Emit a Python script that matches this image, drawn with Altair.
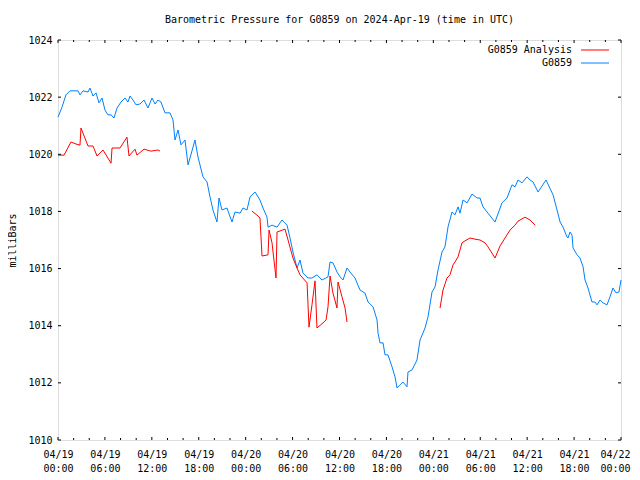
import json
import altair as alt
import pandas as pd

# ---- data (hours since 2024-04-19 00:00 UTC, millibars) ----
blue_h = [0.00, 0.51, 1.02, 1.53, 2.56, 2.81, 3.20, 3.84, 4.09, 4.48, 4.86, 5.24, 5.63, 6.01, 6.39, 6.78,
          7.16, 7.55, 8.06, 8.57, 8.95, 9.21, 9.59, 9.98, 10.49, 11.00, 11.51, 12.02, 12.41, 12.79, 13.17,
          13.68, 14.32, 14.71, 14.96, 15.35, 15.73, 16.24, 16.63, 16.88, 17.52, 17.90, 18.54, 19.06, 19.44,
          19.82, 20.33, 20.59, 20.97, 21.61, 22.25, 22.64, 23.28, 23.66, 24.17, 24.56, 25.19, 25.83, 26.22,
          26.73, 26.86, 27.37, 28.01, 28.65, 29.29, 29.67, 30.05, 30.57, 30.95, 31.33, 31.97, 32.48, 33.12,
          33.76, 34.53, 34.79, 35.17, 35.68, 36.07, 36.45, 36.96, 37.34, 37.98, 38.62, 39.26, 39.65, 40.29,
          40.80, 40.93, 41.18, 41.57, 41.82, 42.20, 42.72, 43.10, 43.36, 43.74, 44.12, 44.63, 44.76, 45.27,
          45.91, 46.30, 46.94, 47.32, 47.83, 48.22, 48.60, 49.11, 49.49, 49.88, 50.39, 50.77, 51.16, 51.41,
          51.80, 52.31, 52.95, 53.59, 53.97, 54.35, 54.99, 55.89, 56.78, 57.42, 58.06, 58.45, 58.83, 59.34,
          59.98, 60.37, 60.75, 61.39, 62.41, 63.31, 63.82, 64.21, 64.59, 65.10, 65.23, 65.48, 65.74, 65.87,
          66.38, 66.76, 67.15, 67.40, 67.78, 68.29, 68.68, 68.93, 69.32, 69.70, 70.21, 70.59, 70.98, 71.36,
          71.74, 72.00]
blue_v = [1021.30, 1021.65, 1022.08, 1022.22, 1022.22, 1022.08, 1022.22, 1022.18, 1022.32, 1022.04, 1022.15,
          1021.80, 1021.97, 1021.55, 1021.38, 1021.38, 1021.27, 1021.62, 1021.83, 1021.97, 1021.83, 1022.04,
          1021.90, 1021.73, 1021.76, 1021.90, 1021.62, 1021.97, 1021.76, 1021.90, 1021.83, 1021.45, 1021.45,
          1021.20, 1020.50, 1020.85, 1020.33, 1020.50, 1019.63, 1019.87, 1020.50, 1019.91, 1019.21, 1019.03,
          1018.51, 1018.05, 1017.63, 1018.47, 1018.05, 1018.12, 1017.63, 1017.98, 1017.94, 1018.12, 1018.05,
          1018.51, 1018.68, 1018.40, 1018.12, 1017.80, 1017.45, 1017.52, 1017.45, 1017.70, 1017.52, 1017.07,
          1016.58, 1016.02, 1016.30, 1015.84, 1015.67, 1015.67, 1015.78, 1015.60, 1015.71, 1016.23, 1016.20,
          1015.88, 1015.71, 1015.60, 1016.02, 1015.88, 1015.67, 1015.25, 1015.14, 1014.83, 1014.66, 1014.20,
          1013.74, 1013.40, 1013.40, 1012.98, 1012.98, 1012.56, 1012.21, 1011.82, 1011.93, 1012.03, 1011.86,
          1012.38, 1012.45, 1012.80, 1013.50, 1013.92, 1014.31, 1015.18, 1015.36, 1015.95, 1016.58, 1016.76,
          1017.46, 1017.98, 1017.88, 1018.16, 1017.94, 1018.40, 1018.30, 1018.61, 1018.47, 1018.47, 1018.16,
          1017.94, 1017.63, 1018.30, 1018.47, 1018.93, 1018.86, 1019.10, 1019.00, 1019.21, 1019.10, 1019.03,
          1018.68, 1019.10, 1018.58, 1018.05, 1017.63, 1017.45, 1017.10, 1017.07, 1017.28, 1017.17, 1016.72,
          1016.48, 1016.37, 1016.06, 1015.60, 1015.32, 1014.83, 1014.83, 1014.73, 1014.90, 1014.80, 1014.73,
          1015.01, 1015.32, 1015.15, 1015.18, 1015.60]

red1_h = [0.00, 0.77, 1.66, 2.30, 2.81, 2.94, 3.84, 4.48, 4.99, 5.76, 6.78, 6.91, 7.93, 8.82, 9.08, 9.85,
          10.10, 11.00, 11.89, 12.79, 13.05]
red1_v = [1019.97, 1019.97, 1020.43, 1020.36, 1020.32, 1020.92, 1020.29, 1020.29, 1019.94, 1020.15, 1019.69,
          1020.22, 1020.22, 1020.60, 1019.94, 1020.18, 1019.97, 1020.18, 1020.11, 1020.15, 1020.11]
red2_h = [24.81, 25.45, 25.83, 26.09, 26.86, 26.99, 27.37, 27.50, 27.88, 28.01, 29.03, 29.42, 30.05, 30.57,
          30.95, 31.85, 32.10, 32.48, 32.87, 33.12, 33.89, 34.28, 34.53, 34.79, 35.17, 35.68, 35.81, 36.32,
          36.71, 36.96]
red2_v = [1018.01, 1017.87, 1017.77, 1016.44, 1016.48, 1017.35, 1016.90, 1016.58, 1015.67, 1017.28, 1017.38,
          1017.00, 1016.37, 1016.02, 1015.78, 1015.50, 1013.95, 1014.73, 1015.57, 1013.92, 1014.10, 1014.20,
          1014.66, 1015.74, 1015.14, 1014.62, 1015.53, 1015.01, 1014.62, 1014.13]
red3_h = [48.86, 49.24, 49.75, 50.13, 50.52, 50.77, 51.16, 51.67, 52.05, 52.69, 53.33, 53.97, 54.61, 54.99,
          55.89, 56.53, 57.17, 57.81, 58.45, 58.83, 59.72, 60.37, 61.01]
red3_v = [1014.62, 1015.25, 1015.67, 1015.78, 1016.13, 1016.23, 1016.41, 1016.90, 1016.97, 1017.07, 1017.03,
          1017.00, 1016.90, 1016.76, 1016.37, 1016.79, 1017.07, 1017.35, 1017.52, 1017.66, 1017.80, 1017.70,
          1017.52]

x_major = [0, 6, 12, 18, 24, 30, 36, 42, 48, 54, 60, 66, 72]
x_minor = [2, 4, 8, 10, 14, 16, 20, 22, 26, 28, 32, 34, 38, 40, 44, 46, 50, 52, 56, 58, 62, 64, 68, 70]
x_dates = ["04/19", "04/19", "04/19", "04/19", "04/20", "04/20", "04/20", "04/20",
           "04/21", "04/21", "04/21", "04/21", "04/22"]
x_times = ["00:00", "06:00", "12:00", "18:00", "00:00", "06:00", "12:00", "18:00",
           "00:00", "06:00", "12:00", "18:00", "00:00"]
y_ticks = [1010, 1012, 1014, 1016, 1018, 1020, 1022, 1024]

series_names = ["G0859 Analysis", "G0859"]
series_colors = ["#ff0000", "#0080ff"]

FONT = "DejaVu Sans Mono"
W, H = 563, 400

blue_df = pd.DataFrame({"h": blue_h, "v": blue_v})
red_df = pd.concat([
    pd.DataFrame({"h": red1_h, "v": red1_v, "seg": 1}),
    pd.DataFrame({"h": red2_h, "v": red2_v, "seg": 2}),
    pd.DataFrame({"h": red3_h, "v": red3_v, "seg": 3}),
], ignore_index=True)

xscale = alt.Scale(domain=[0, 72], nice=False, zero=False)
yscale = alt.Scale(domain=[1010, 1024], nice=False, zero=False)

label_expr = ("[" + json.dumps(x_dates) + "[round(datum.value/6)], "
              + json.dumps(x_times) + "[round(datum.value/6)]]")

x_axis = alt.Axis(values=x_major, labelExpr=label_expr, grid=False, ticks=False, domain=False,
                  labelFont=FONT, labelFontSize=10, labelColor="black", labelPadding=14,
                  labelLineHeight=14, labelBaseline="middle", labelFlush=False,
                  labelAlign={"condition": {"test": "datum.value >= 72", "value": "right"},
                              "value": "center"},
                  labelOffset={"condition": {"test": "datum.value >= 72", "value": 9},
                               "value": 0},
                  labelOverlap=False, title=None)
y_axis = alt.Axis(values=y_ticks, grid=False, ticks=False, domain=False, format="d",
                  labelFont=FONT, labelFontSize=10, labelColor="black", labelPadding=6,
                  title="milliBars", titleFont=FONT, titleFontSize=10, titleFontWeight="normal",
                  titleColor="black", titlePadding=10)

blue = alt.Chart(blue_df).mark_line(color=series_colors[1], strokeWidth=1).encode(
    x=alt.X("h:Q", scale=xscale, axis=x_axis),
    y=alt.Y("v:Q", scale=yscale, axis=y_axis),
)
red = alt.Chart(red_df).mark_line(color=series_colors[0], strokeWidth=1).encode(
    x=alt.X("h:Q", scale=xscale),
    y=alt.Y("v:Q", scale=yscale),
    detail="seg:N",
)

xmaj = pd.DataFrame({"h": x_major})
xmin = pd.DataFrame({"h": x_minor})
yt = pd.DataFrame({"v": y_ticks})

tick_layers = [
    alt.Chart(xmaj).mark_rule(color="black", strokeWidth=1).encode(
        x=alt.X("h:Q", scale=xscale), y=alt.value(H), y2=alt.value(H - 3)),
    alt.Chart(xmaj).mark_rule(color="black", strokeWidth=1).encode(
        x=alt.X("h:Q", scale=xscale), y=alt.value(0), y2=alt.value(3)),
    alt.Chart(xmin).mark_rule(color="black", strokeWidth=1).encode(
        x=alt.X("h:Q", scale=xscale), y=alt.value(H), y2=alt.value(H - 2)),
    alt.Chart(xmin).mark_rule(color="black", strokeWidth=1).encode(
        x=alt.X("h:Q", scale=xscale), y=alt.value(0), y2=alt.value(2)),
    alt.Chart(yt).mark_rule(color="black", strokeWidth=1).encode(
        y=alt.Y("v:Q", scale=yscale), x=alt.value(0), x2=alt.value(3)),
    alt.Chart(yt).mark_rule(color="black", strokeWidth=1).encode(
        y=alt.Y("v:Q", scale=yscale), x=alt.value(W), x2=alt.value(W - 3)),
]

leg_df = pd.DataFrame({"name": series_names, "color": series_colors})
legend_layers = []
for i, (nm, col) in enumerate(zip(series_names, series_colors)):
    d = leg_df[leg_df["name"] == nm]
    yy = 10 + 13 * i
    legend_layers.append(
        alt.Chart(d).mark_text(align="right", baseline="middle", font=FONT, fontSize=10,
                               color="black").encode(text="name:N", x=alt.value(514), y=alt.value(yy)))
    legend_layers.append(
        alt.Chart(d).mark_rule(color=col, strokeWidth=1).encode(
            x=alt.value(523), x2=alt.value(551), y=alt.value(yy)))

chart = alt.layer(blue, red, *tick_layers, *legend_layers).properties(
    width=W, height=H,
    title=alt.TitleParams("Barometric Pressure for G0859 on 2024-Apr-19 (time in UTC)",
                          font=FONT, fontSize=10, fontWeight="normal", color="black",
                          anchor="middle", offset=10),
    autosize=alt.AutoSizeParams(type="none"),
    padding={"left": 50, "top": 32, "right": 10, "bottom": 34},
).configure_view(stroke="black", strokeWidth=1).configure(background="white")

chart.save("out.html", embed_options={"renderer": "svg", "actions": False})
